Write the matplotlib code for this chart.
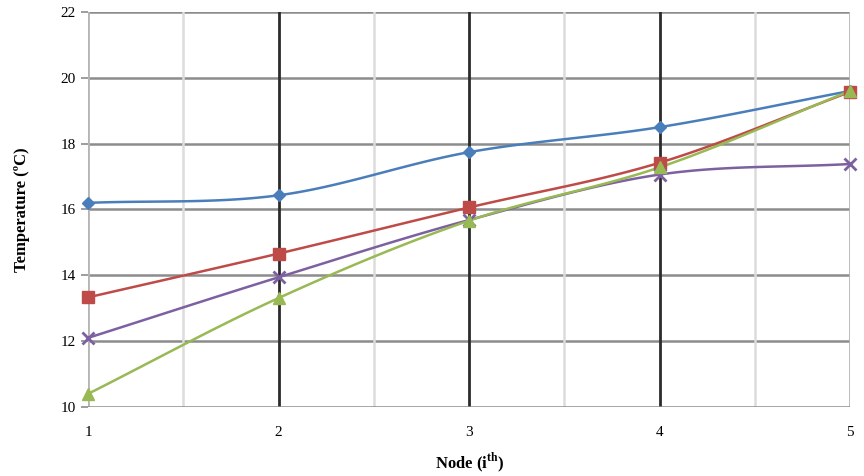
import numpy as np
import matplotlib
matplotlib.use('Agg')
import matplotlib.pyplot as plt

nodes = [1, 2, 3, 4, 5]
s_blue = [16.2, 16.43, 17.74, 18.5, 19.6]
s_red = [13.33, 14.66, 16.06, 17.42, 19.57]
s_green = [10.4, 13.31, 15.66, 17.28, 19.6]
s_purple = [12.1, 13.94, 15.68, 17.06, 17.38]


def smooth(x, y, n=30):
    # Catmull-Rom style curve through the points (like Excel smoothed lines)
    x = np.asarray(x, float)
    y = np.asarray(y, float)
    px = np.concatenate([[2 * x[0] - x[1]], x, [2 * x[-1] - x[-2]]])
    py = np.concatenate([[2 * y[0] - y[1]], y, [2 * y[-1] - y[-2]]])
    xs, ys = [], []
    t = np.linspace(0, 1, n)
    for i in range(1, len(px) - 2):
        p0, p1, p2, p3 = (np.array([px[k], py[k]]) for k in (i - 1, i, i + 1, i + 2))
        c1 = p1 + (p2 - p0) / 6.0
        c2 = p2 - (p3 - p1) / 6.0
        pts = ((1 - t) ** 3)[:, None] * p1 + (3 * (1 - t) ** 2 * t)[:, None] * c1 \
            + (3 * (1 - t) * t ** 2)[:, None] * c2 + (t ** 3)[:, None] * p2
        xs.append(pts[:, 0])
        ys.append(pts[:, 1])
    return np.concatenate(xs), np.concatenate(ys)


plt.rcParams['font.family'] = ['Liberation Serif', 'DejaVu Serif']
plt.rcParams['mathtext.fontset'] = 'custom'
plt.rcParams['mathtext.bf'] = 'Liberation Serif:bold'

fig = plt.figure(figsize=(8.64, 4.76), dpi=100)
ax = fig.add_axes([0.102, 0.145, 0.882, 0.83])

ax.set_xlim(1, 5)
ax.set_ylim(10, 22)
ax.set_yticks(np.arange(10, 23, 2))
ax.set_xticks(nodes)

# grid
for yv in np.arange(12, 23, 2):
    ax.axhline(yv, color='#8c8c8c', lw=1.8, zorder=1)
for xv in [1.5, 2.5, 3.5, 4.5]:
    ax.axvline(xv, color='#dcdcdc', lw=1.8, zorder=1)
for xv in [2, 3, 4]:
    ax.axvline(xv, color='#2b2b2b', lw=2.0, zorder=1)
for xv in [1, 5]:
    ax.axvline(xv, color='#b5b5b5', lw=2.0, zorder=1)

for sp in ax.spines.values():
    sp.set_visible(False)
ax.axhline(10, color='#8c8c8c', lw=1.8, zorder=1)

series = [
    (s_blue, '#4a7ebb', 'D', 6),
    (s_red, '#be4b48', 's', 9),
    (s_purple, '#7d60a0', 'x', 8),
    (s_green, '#98b954', '^', 8),
]
for ys, col, mk, ms in series:
    sx, sy = smooth(nodes, ys)
    ax.plot(sx, sy, color=col, lw=1.8, zorder=3)
    ax.plot(nodes, ys, ls='none', marker=mk, color=col, ms=ms,
            mew=2 if mk == 'x' else 1, zorder=4, clip_on=False)

ax.tick_params(axis='y', length=5, color='#8c8c8c', width=1.2, labelsize=11, pad=4)
ax.tick_params(axis='x', length=0, labelsize=11, pad=14)

ax.set_ylabel('Temperature (ºC)', fontsize=12, fontweight='bold', labelpad=22)
ax.set_xlabel('Node (i$^{\\mathbf{th}}$)', fontsize=12, fontweight='bold', labelpad=8)

fig.savefig('out.png', dpi=100)
